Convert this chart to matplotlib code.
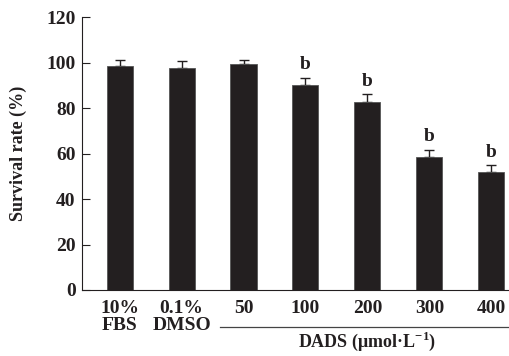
import numpy as np
import matplotlib
matplotlib.use("Agg")
from matplotlib import pyplot as plt

plt.rcParams['font.family'] = ['Liberation Serif', 'DejaVu Serif']
plt.rcParams['font.weight'] = 'bold'
plt.rcParams['mathtext.fontset'] = 'custom'
plt.rcParams['mathtext.rm'] = 'Liberation Serif:bold'
plt.rcParams['mathtext.bf'] = 'Liberation Serif:bold'

labels = ['10%\nFBS', '0.1%\nDMSO', '50', '100', '200', '300', '400']
survival = [98.3, 97.8, 99.2, 90.2, 82.5, 58.6, 51.8]
err = [3.0, 3.0, 2.0, 3.2, 3.6, 3.0, 3.0]
marks = ['', '', '', 'b', 'b', 'b', 'b']

dark = '#231f20'
fig = plt.figure(figsize=(5.09, 3.56), dpi=100)
ax = fig.add_axes([0.162, 0.1854, 0.836, 0.7668])

x = np.arange(len(labels))
ax.bar(x, survival, width=0.42, color=dark, edgecolor='#555555', linewidth=0.6, zorder=2)
ax.errorbar(x, survival, yerr=[np.zeros(len(err)), err], fmt='none',
            ecolor=dark, elinewidth=1.0, capsize=3.5, capthick=1.0, zorder=1)
for xi, yi, e, m in zip(x, survival, err, marks):
    if m:
        ax.text(xi, yi + e + 2.0, m, ha='center', va='bottom', fontsize=14, fontweight='bold', color=dark)

ax.set_xlim(-0.6, 6.27)
ax.set_ylim(0, 120)
ax.set_yticks([0, 20, 40, 60, 80, 100, 120])
ax.set_xticks(x)
ax.set_xticklabels(labels, linespacing=1.0)
ax.tick_params(axis='y', direction='in', length=6, width=0.8, color=dark, labelsize=14, pad=5)
ax.tick_params(axis='x', length=0, labelsize=14, pad=7)
for lab in ax.get_xticklabels() + ax.get_yticklabels():
    lab.set_fontweight('bold')
    lab.set_color(dark)

for s in ['top', 'right']:
    ax.spines[s].set_visible(False)
for s in ['left', 'bottom']:
    ax.spines[s].set_linewidth(0.8)
    ax.spines[s].set_color(dark)

ax.set_ylabel('Survival rate (%)', fontsize=13, fontweight='bold', color=dark, labelpad=14)

trans = ax.get_xaxis_transform()
ax.plot([1.62, 6.27], [-0.1355, -0.1355], transform=trans, color='#444444', lw=0.9, clip_on=False)
ax.text(4, -0.232, r'DADS (μmol·L$^{-1}$)', transform=trans, ha='center', va='bottom',
        fontsize=13, fontweight='bold', color=dark)

fig.savefig('out.png', dpi=100)
